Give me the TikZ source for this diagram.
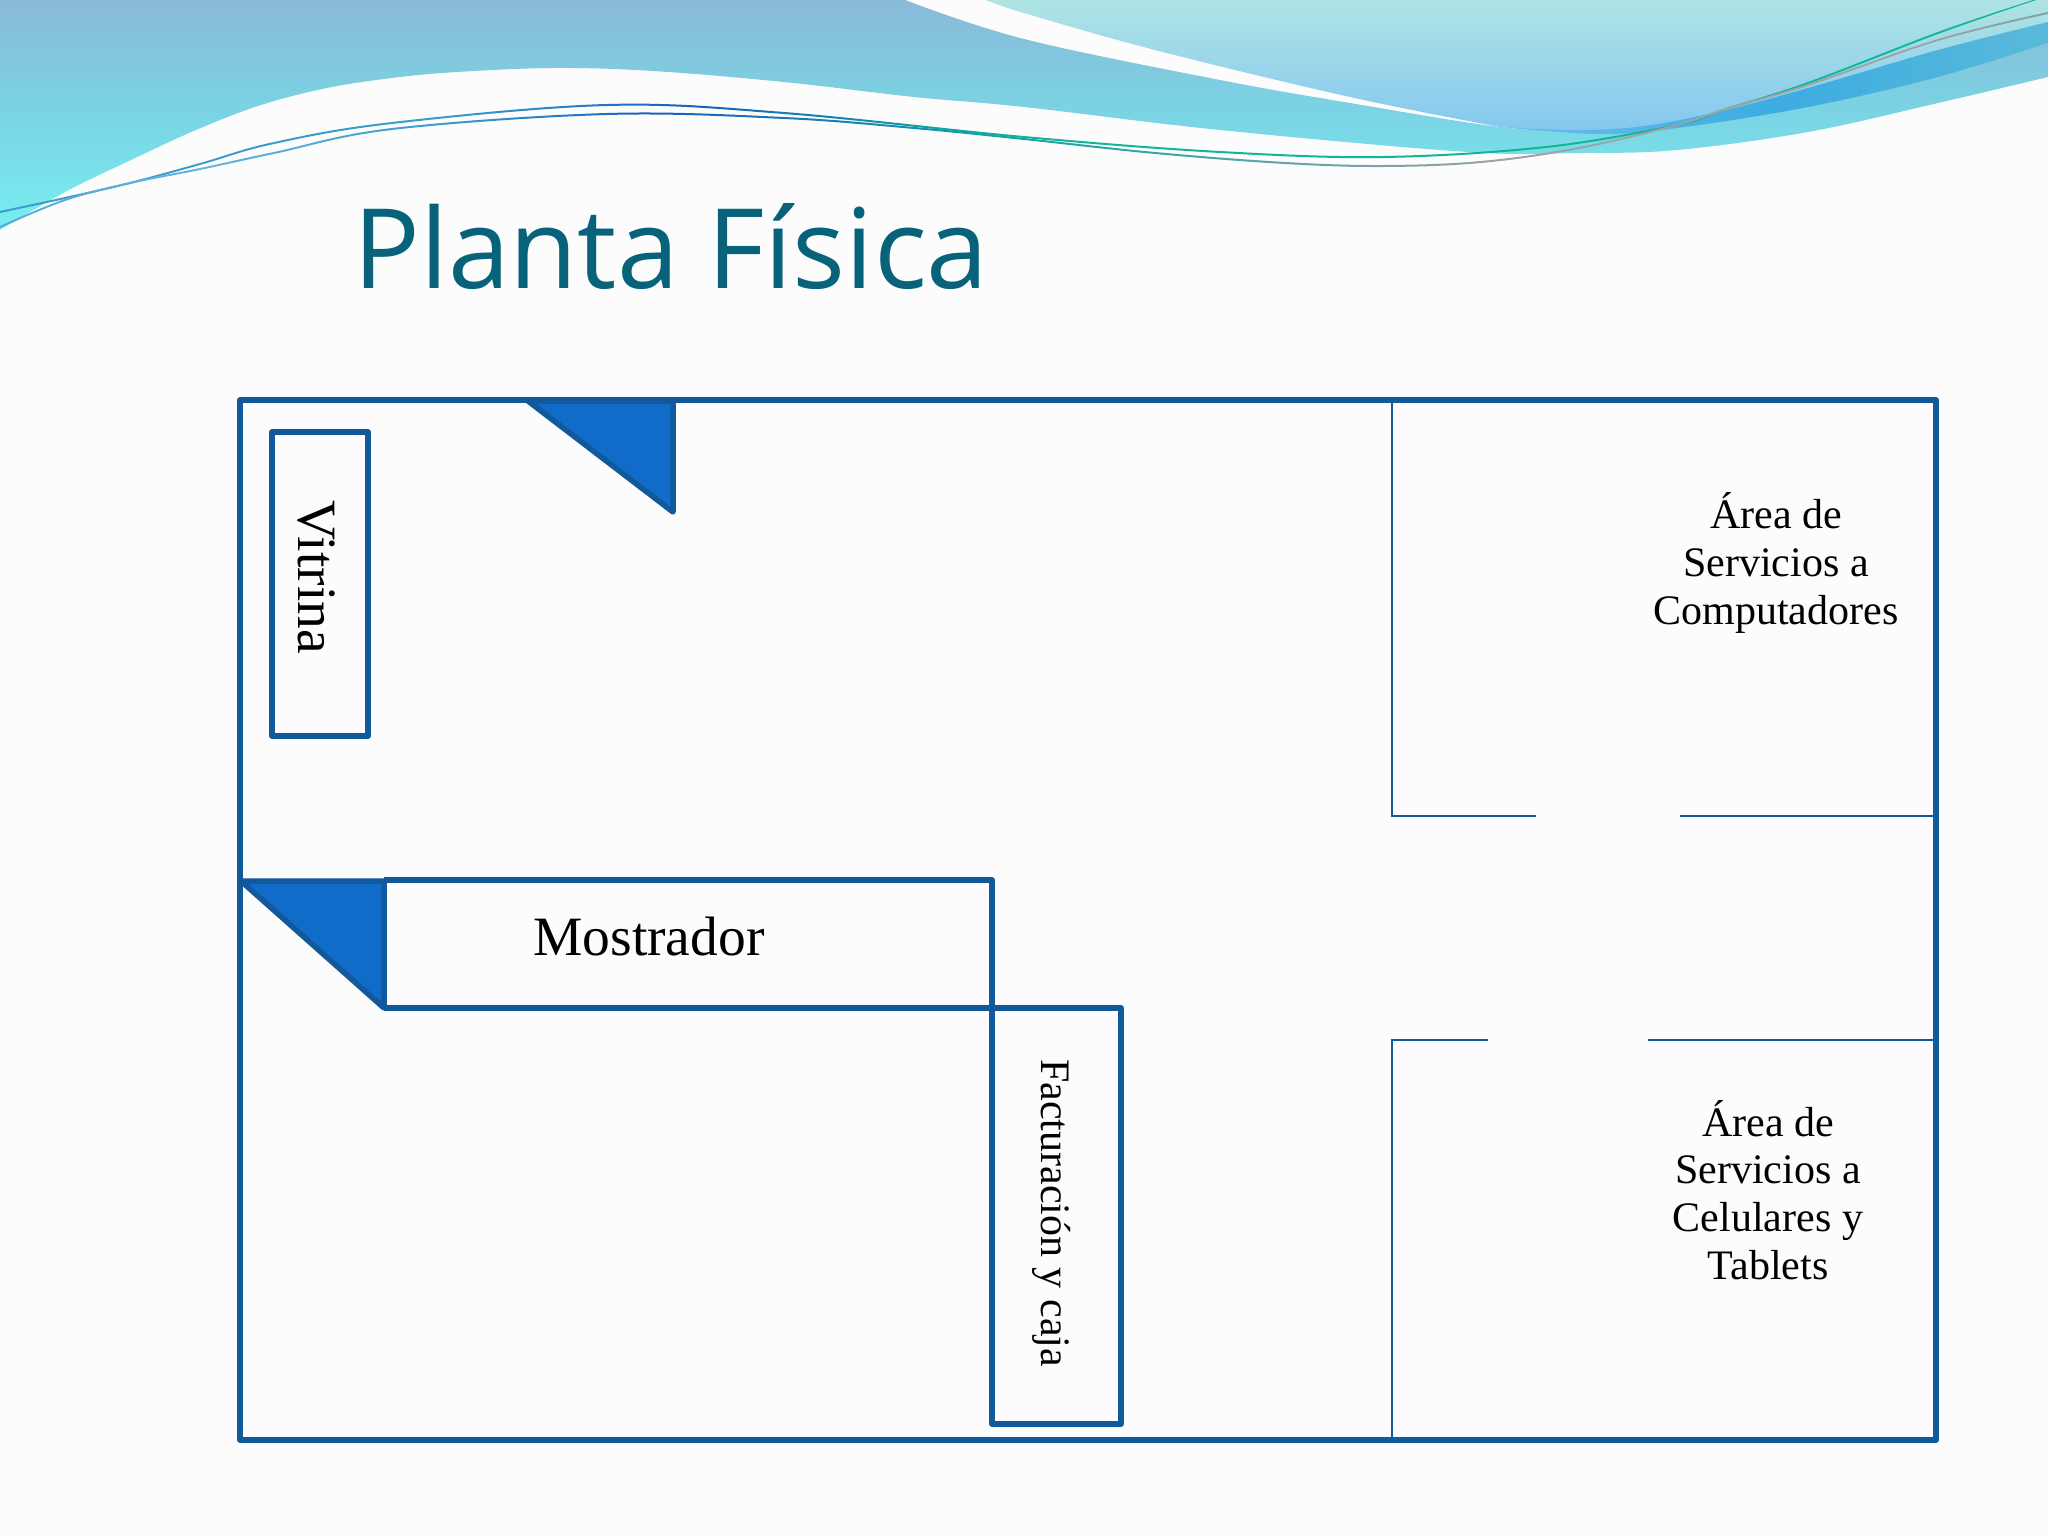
\documentclass[tikz,border=0pt]{standalone}
\usepackage{fontspec}
\setmainfont{Liberation Serif}
\newfontfamily\titlefont{Open Sans}
\definecolor{paper}{HTML}{FCFCFD}
\definecolor{wall}{HTML}{11599B}
\definecolor{wedge}{HTML}{106CC8}
\definecolor{titleink}{HTML}{07627A}
\definecolor{lnGreen}{HTML}{0FB795}
\definecolor{lnTeal}{HTML}{18A5A8}
\definecolor{lnBlue}{HTML}{3A9CC8}
\definecolor{lnDeep}{HTML}{1A5FBE}
\definecolor{lnSky}{HTML}{66B4DC}
\definecolor{lnGrey}{HTML}{9FA3A6}
\pgfdeclarehorizontalshading{lineA}{100bp}{color(0bp)=(lnGreen); color(8bp)=(lnTeal); color(25bp)=(lnBlue); color(36bp)=(lnBlue); color(42bp)=(lnDeep); color(50bp)=(lnGreen); color(84bp)=(lnGreen); color(90bp)=(lnDeep); color(93bp)=(lnBlue); color(100bp)=(lnBlue)}
\pgfdeclarehorizontalshading{lineB}{100bp}{color(0bp)=(lnGrey); color(6bp)=(lnTeal); color(11bp)=(lnTeal); color(14bp)=(lnDeep); color(18bp)=(lnBlue); color(30bp)=(lnSky); color(36bp)=(lnBlue); color(41bp)=(lnDeep); color(50bp)=(lnTeal); color(62bp)=(lnGrey); color(72bp)=(lnGrey); color(84bp)=(lnTeal); color(90bp)=(lnDeep); color(94bp)=(lnBlue); color(100bp)=(lnSky)}
\tikzset{
  x=1pt,y=-1pt,
  wallline/.style={draw=wall,line width=5.5pt,line join=round},
  thinwall/.style={draw=wall,line width=1.8pt},
  wedgeshape/.style={wallline,fill=wedge},
  label/.style={inner sep=0pt,text=black,font=\fontsize{42}{47.8}\selectfont,align=center},
  biglabel/.style={inner sep=0pt,text=black,font=\fontsize{55.5}{60}\selectfont},
}
\begin{document}
\begin{tikzpicture}
\useasboundingbox (0,0) rectangle (2048,1536);
\fill[paper] (0,0) rectangle (2048,1536);
% band 1
\shade[shading=axis,top color={rgb,255:red,138;green,186;blue,216},bottom color={rgb,255:red,120;green,238;blue,240},middle color={rgb,255:red,122;green,212;blue,228}]
  (0,0) -- (905,0)
  -- plot[smooth,tension=.6] coordinates {(905,0) (1024,39) (1220,80) (1350,103) (1500,127) (1579,130) (1644,126) (1722,111) (1808,88) (1938,50) (2048,22)}
  -- (2048,77)
  -- plot[smooth,tension=.6] coordinates {(2048,77) (1938,103) (1808,132) (1677,150) (1579,153) (1468,152) (1220,130) (1024,107) (914,97) (784,82) (653,71) (555,68) (457,72) (392,78) (327,88) (261,105) (196,130) (131,160) (65,192) (0,230)}
  -- cycle;
% upper band
\shade[shading=axis,top color={rgb,255:red,175;green,228;blue,228},bottom color={rgb,255:red,132;green,198;blue,240}]
  (986,0) -- (2048,0) -- (2048,43)
  -- plot[smooth,tension=.6] coordinates {(2048,43) (1938,77) (1808,107) (1677,128) (1599,134) (1500,127)}
  -- plot[smooth,tension=.6] coordinates {(1500,127) (1350,97) (1155,50) (1024,13) (986,0)}
  -- cycle;
% overlap
\shade[shading=axis,shading angle=90,left color={rgb,255:red,110;green,190;blue,235},right color={rgb,255:red,90;green,185;blue,218},middle color={rgb,255:red,60;green,172;blue,226}]
  plot[smooth,tension=.6] coordinates {(1500,127) (1579,130) (1644,126) (1722,111) (1808,88) (1938,50) (2048,22)}
  -- (2048,43)
  -- plot[smooth,tension=.6] coordinates {(2048,43) (1938,77) (1808,107) (1677,128) (1599,134) (1500,127)}
  -- cycle;
% fine swoosh lines
\path[shading=lineA]
  plot[smooth,tension=.6] coordinates {(0,211) (65,197) (130,182) (200,163) (274,142) (392,122) (607,104) (784,112) (1024,136) (1220,151) (1383,156) (1546,146) (1677,124) (1723,109) (1808,82) (1938,32) (2033,0)}
  -- (2036,0)
  -- plot[smooth,tension=.6] coordinates {(2036,0) (1938,34) (1808,84) (1723,111) (1677,126) (1546,148) (1383,158) (1220,153) (1024,138) (784,114) (607,106) (392,124) (274,144) (200,165) (130,184) (65,199) (0,213)}
  -- cycle;
\path[shading=lineB]
  plot[smooth,tension=.6] coordinates {(0,226) (65,199) (130,182) (200,168) (274,152) (392,128) (607,113) (784,117) (914,127) (1024,138) (1155,152) (1285,162) (1383,165) (1481,161) (1579,147) (1677,124) (1723,109) (1808,84) (1938,39) (2048,12)}
  -- (2048,14)
  -- plot[smooth,tension=.6] coordinates {(2048,14) (1938,41) (1808,86) (1723,111) (1677,126) (1579,149) (1481,163) (1383,167) (1285,164) (1155,154) (1024,140) (914,129) (784,119) (607,115) (392,130) (274,154) (200,170) (130,184) (65,201) (0,228)}
  -- cycle;
% title
\node[anchor=base west,inner sep=0pt,text=titleink,font=\titlefont\fontsize{111}{120}\selectfont] (title) at (353,288) {Planta Física};
% plan
\draw[wedgeshape] (528,401) -- (673,401) -- (673,512) -- cycle;
\draw[wedgeshape] (241,881) -- (384,881) -- (384,1008) -- cycle;
\draw[wallline] (240,400) rectangle (1936,1440);
\draw[wallline] (272,432) rectangle (368,736);
\draw[wallline] (384,880) -- (992,880) -- (992,1008);
\draw[wallline] (384,1008) -- (1121,1008) -- (1121,1424) -- (992,1424) -- (992,1008);
\draw[thinwall] (1392,400) -- (1392,816) -- (1536,816);
\draw[thinwall] (1680,816) -- (1936,816);
\draw[thinwall] (1488,1040) -- (1392,1040) -- (1392,1440);
\draw[thinwall] (1648,1040) -- (1936,1040);
% labels
\node[biglabel,rotate=-90,anchor=base] (vitrina) at (298,577) {Vitrina};
\node[biglabel,anchor=base] (mostrador) at (649,955) {Mostrador};
\node[label,rotate=-90,anchor=base] (caja) at (1041,1213) {Facturación y caja};
\node[label] (areaA) at (1776,563) {Área de\\Servicios a\\Computadores};
\node[label] (areaB) at (1768,1190) {Área de\\Servicios a\\Celulares y\\Tablets};
\end{tikzpicture}
\end{document}
